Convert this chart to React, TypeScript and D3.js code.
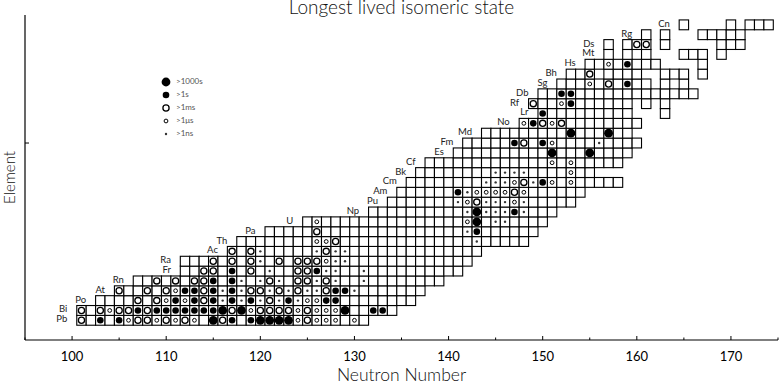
import React from 'react';
import * as d3 from 'd3';

const symbols = ['Pb', 'Bi', 'Po', 'At', 'Rn', 'Fr', 'Ra', 'Ac', 'Th', 'Pa', 'U', 'Np', 'Pu', 'Am', 'Cm', 'Bk', 'Cf', 'Es', 'Fm', 'Md', 'No', 'Lr', 'Rf', 'Db', 'Sg', 'Bh', 'Hs', 'Mt', 'Ds', 'Rg', 'Cn'];
const firstZ = 82;

// first neutron number drawn in each row (Z = 82 .. 112)
const rowStart = [101, 101, 103, 105, 107, 112, 112, 117, 118, 121, 125, 132, 134, 135, 136, 137, 138, 141, 142, 144, 148, 150, 149, 150, 152, 153, 155, 157, 157, 161, 165];

// one char per N from rowStart: ' ' nothing, '.' nucleus without isomer,
// A >1000s, B >1s, C >1ms, D >1us, E >1ns
const rows = [
  'C.B.BDCCDCDCD.ACB.BAAAADCDDD.D.',
  'C.CDCCBCBBBBBBBACADCCCCDCDDDA..BB.',
  '....C.CDBDBCBEBEBECEBEDDBB........',
  'C..C.CDBBCBEBECCECECEECBBE.......',
  '..C.C.CCB.BE.ECE.CCECE..E........',
  '..CC.B.C.E..CCBEE..E..........',
  '...C.C.CE.C.CCCDEE.............',
  'C.CE.....ECEE..............',
  '........DDC..............E.....',
  '.....C...............EB......',
  '.D...............DA.EE....',
  '..........EAEEEBE...',
  '.......EDCEEEDE.....',
  '......BEDDDDCD......',
  '........EEEDCEBD.D.....',
  '........EEEE....D..',
  '.............D.D.....',
  '..........A...A....',
  '.....BC.BD....E....',
  '.........A...A..',
  'DBCDC........',
  'B.........   .',
  'C..DB...... . .',
  '..BB.............',
  '...D.C.B.. . .',
  '..C ....  ... .',
  '..D.B...    .',
  '. . .   ... .',
  '. .CC .     ...',
  '. .   .....',
  '.    . ...',
];

const legendCodes = ['A', 'B', 'C', 'D', 'E'];
const legendLabels = ['>1000s', '>1s', '>1ms', '>1\u03bcs', '>1ns'];
const majorTicks = [100, 110, 120, 130, 140, 150, 160, 170];
const minorTicks = [95, 105, 115, 125, 135, 145, 155, 165, 175];

const W = 781;
const H = 386;
const font = 'Lato, "DejaVu Sans", sans-serif';

function Marker({ code, cx, cy }: { code: string; cx: number; cy: number }) {
  if (code === 'A') return <circle cx={cx} cy={cy} r={4.4} fill="#000" />;
  if (code === 'B') return <circle cx={cx} cy={cy} r={3.3} fill="#000" />;
  if (code === 'C') return <circle cx={cx} cy={cy} r={3.1} fill="#fff" stroke="#000" strokeWidth={1.3} />;
  if (code === 'D') return <circle cx={cx} cy={cy} r={1.9} fill="#fff" stroke="#000" strokeWidth={1} />;
  if (code === 'E') return <circle cx={cx} cy={cy} r={1.2} fill="#333" />;
  return null;
}

export default function App() {
  const x = d3.scaleLinear().domain([95, 175]).range([25, 778]);
  const y = d3.scaleLinear().domain([80, 113]).range([340, 15]);
  const cw = x(1) - x(0);
  const ch = y(0) - y(1);

  const cells: { z: number; n: number; code: string }[] = [];
  rows.forEach((row, i) => {
    const z = firstZ + i;
    row.split('').forEach((c, j) => {
      if (c !== ' ') cells.push({ z, n: rowStart[i] + j, code: c });
    });
  });

  return (
    <svg width={W} height={H} style={{ position: 'absolute', left: 0, top: 0, background: '#fff' }} fontFamily={font}>
      <text x={(x(95) + x(175)) / 2} y={14} textAnchor="middle" fontSize={19} fontWeight={300} fill="#111">Longest lived isomeric state</text>

      {/* cells */}
      <g>
        {cells.map((d, i) => (
          <rect key={i} x={x(d.n - 0.5)} y={y(d.z + 0.5)} width={cw} height={ch} fill="#fff" stroke="#000" strokeWidth={1.1} />
        ))}
      </g>
      <g>
        {cells.map((d, i) => (
          <Marker key={i} code={d.code} cx={x(d.n)} cy={y(d.z)} />
        ))}
      </g>

      {/* element labels */}
      <g fontSize={9.5} fill="#222">
        {symbols.map((s, i) => (
          <text key={s} x={x(rowStart[i] - 1.5)} y={y(firstZ + i) + 2} textAnchor="end">{s}</text>
        ))}
      </g>

      {/* legend */}
      <g>
        {legendCodes.map((c, i) => (
          <g key={c}>
            <Marker code={c} cx={166} cy={82 + i * 13} />
            <text x={176} y={84 + i * 13} fontSize={8} fill="#555">{legendLabels[i]}</text>
          </g>
        ))}
      </g>

      {/* axes */}
      <line x1={x(95)} x2={x(175)} y1={y(80)} y2={y(80)} stroke="#000" strokeWidth={1.2} />
      <line x1={x(95)} x2={x(95)} y1={y(80)} y2={y(113)} stroke="#000" strokeWidth={1.2} />
      {majorTicks.map(t => (
        <g key={t}>
          <line x1={x(t)} x2={x(t)} y1={y(80)} y2={y(80) - 4} stroke="#000" />
          <text x={x(t)} y={361} textAnchor="middle" fontSize={13}>{t}</text>
        </g>
      ))}
      {minorTicks.map(t => (
        <line key={t} x1={x(t)} x2={x(t)} y1={y(80)} y2={y(80) - 2.5} stroke="#000" />
      ))}
      <line x1={x(95)} x2={x(95) + 4} y1={y(100)} y2={y(100)} stroke="#000" />
      <text x={(x(95) + x(175)) / 2} y={381} textAnchor="middle" fontSize={17.5} fontWeight={300} fill="#111">Neutron Number</text>
      <text transform={`translate(15,${(y(80) + y(113)) / 2}) rotate(-90)`} textAnchor="middle" fontSize={15} fontWeight={300} fill="#111">Element</text>
    </svg>
  );
}
